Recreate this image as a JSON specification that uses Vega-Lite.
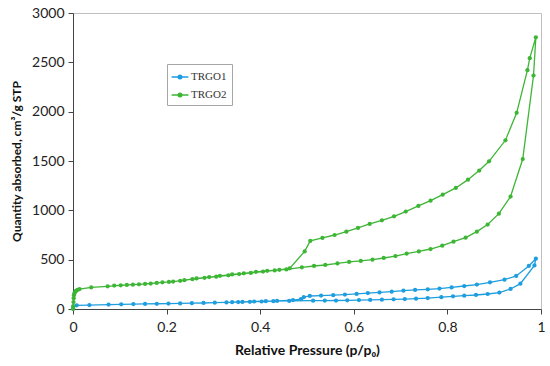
{
  "$schema": "https://vega.github.io/schema/vega-lite/v6.json",
  "width": 468,
  "height": 296,
  "autosize": {"type": "none"},
  "padding": {"left": 73, "top": 13, "right": 9, "bottom": 57},
  "background": "white",
  "config": {
    "view": {"stroke": "#bfbfbf", "strokeWidth": 1},
    "axis": {
      "labelFont": "Lato", "labelFontSize": 14, "labelColor": "#222",
      "titleFont": "Lato", "titleFontSize": 13, "titleFontWeight": "bold", "titleColor": "#111",
      "domainColor": "#444", "tickColor": "#444", "grid": false, "tickSize": 5
    }
  },
  "data": {"values": [
    {"s":"TRGO1","i":1,"x":0.0003,"y":5},
    {"s":"TRGO1","i":2,"x":0.001,"y":25},
    {"s":"TRGO1","i":3,"x":0.008,"y":37},
    {"s":"TRGO1","i":4,"x":0.035,"y":40},
    {"s":"TRGO1","i":5,"x":0.076,"y":45},
    {"s":"TRGO1","i":6,"x":0.103,"y":47},
    {"s":"TRGO1","i":7,"x":0.129,"y":50},
    {"s":"TRGO1","i":8,"x":0.154,"y":51},
    {"s":"TRGO1","i":9,"x":0.179,"y":53},
    {"s":"TRGO1","i":10,"x":0.204,"y":55},
    {"s":"TRGO1","i":11,"x":0.229,"y":57},
    {"s":"TRGO1","i":12,"x":0.254,"y":59},
    {"s":"TRGO1","i":13,"x":0.279,"y":61},
    {"s":"TRGO1","i":14,"x":0.303,"y":64},
    {"s":"TRGO1","i":15,"x":0.328,"y":67},
    {"s":"TRGO1","i":16,"x":0.353,"y":70},
    {"s":"TRGO1","i":17,"x":0.378,"y":73},
    {"s":"TRGO1","i":18,"x":0.403,"y":76},
    {"s":"TRGO1","i":19,"x":0.428,"y":79},
    {"s":"TRGO1","i":20,"x":0.462,"y":82},
    {"s":"TRGO1","i":21,"x":0.513,"y":84},
    {"s":"TRGO1","i":22,"x":0.538,"y":85},
    {"s":"TRGO1","i":23,"x":0.562,"y":86},
    {"s":"TRGO1","i":24,"x":0.586,"y":88},
    {"s":"TRGO1","i":25,"x":0.611,"y":90},
    {"s":"TRGO1","i":26,"x":0.635,"y":92},
    {"s":"TRGO1","i":27,"x":0.660,"y":95},
    {"s":"TRGO1","i":28,"x":0.685,"y":98},
    {"s":"TRGO1","i":29,"x":0.709,"y":101},
    {"s":"TRGO1","i":30,"x":0.733,"y":105},
    {"s":"TRGO1","i":31,"x":0.758,"y":111},
    {"s":"TRGO1","i":32,"x":0.787,"y":120},
    {"s":"TRGO1","i":33,"x":0.812,"y":128},
    {"s":"TRGO1","i":34,"x":0.836,"y":135},
    {"s":"TRGO1","i":35,"x":0.861,"y":142},
    {"s":"TRGO1","i":36,"x":0.886,"y":152},
    {"s":"TRGO1","i":37,"x":0.911,"y":166},
    {"s":"TRGO1","i":38,"x":0.935,"y":203},
    {"s":"TRGO1","i":39,"x":0.956,"y":257},
    {"s":"TRGO1","i":40,"x":0.986,"y":442},
    {"s":"TRGO1","i":41,"x":0.989,"y":510},
    {"s":"TRGO1","i":42,"x":0.974,"y":436},
    {"s":"TRGO1","i":43,"x":0.947,"y":335},
    {"s":"TRGO1","i":44,"x":0.922,"y":297},
    {"s":"TRGO1","i":45,"x":0.891,"y":270},
    {"s":"TRGO1","i":46,"x":0.863,"y":248},
    {"s":"TRGO1","i":47,"x":0.836,"y":233},
    {"s":"TRGO1","i":48,"x":0.809,"y":219},
    {"s":"TRGO1","i":49,"x":0.783,"y":207},
    {"s":"TRGO1","i":50,"x":0.758,"y":199},
    {"s":"TRGO1","i":51,"x":0.731,"y":193},
    {"s":"TRGO1","i":52,"x":0.706,"y":186},
    {"s":"TRGO1","i":53,"x":0.681,"y":176},
    {"s":"TRGO1","i":54,"x":0.655,"y":168},
    {"s":"TRGO1","i":55,"x":0.630,"y":161},
    {"s":"TRGO1","i":56,"x":0.606,"y":153},
    {"s":"TRGO1","i":57,"x":0.581,"y":146},
    {"s":"TRGO1","i":58,"x":0.556,"y":140},
    {"s":"TRGO1","i":59,"x":0.530,"y":136},
    {"s":"TRGO1","i":60,"x":0.506,"y":132},
    {"s":"TRGO1","i":61,"x":0.493,"y":120},
    {"s":"TRGO1","i":62,"x":0.487,"y":100},
    {"s":"TRGO1","i":63,"x":0.470,"y":90},
    {"s":"TRGO1","i":64,"x":0.436,"y":82},
    {"s":"TRGO1","i":65,"x":0.412,"y":79},
    {"s":"TRGO1","i":66,"x":0.387,"y":76},
    {"s":"TRGO1","i":67,"x":0.362,"y":72},
    {"s":"TRGO1","i":68,"x":0.340,"y":69},

    {"s":"TRGO2","i":1,"x":0.0002,"y":0},
    {"s":"TRGO2","i":2,"x":0.0006,"y":30},
    {"s":"TRGO2","i":3,"x":0.001,"y":70},
    {"s":"TRGO2","i":4,"x":0.0015,"y":110},
    {"s":"TRGO2","i":5,"x":0.002,"y":140},
    {"s":"TRGO2","i":6,"x":0.003,"y":160},
    {"s":"TRGO2","i":7,"x":0.005,"y":175},
    {"s":"TRGO2","i":8,"x":0.007,"y":186},
    {"s":"TRGO2","i":9,"x":0.010,"y":195},
    {"s":"TRGO2","i":10,"x":0.014,"y":202},
    {"s":"TRGO2","i":11,"x":0.039,"y":219},
    {"s":"TRGO2","i":12,"x":0.074,"y":230},
    {"s":"TRGO2","i":13,"x":0.102,"y":240},
    {"s":"TRGO2","i":14,"x":0.128,"y":247},
    {"s":"TRGO2","i":15,"x":0.154,"y":254},
    {"s":"TRGO2","i":16,"x":0.179,"y":264},
    {"s":"TRGO2","i":17,"x":0.205,"y":274},
    {"s":"TRGO2","i":18,"x":0.229,"y":286},
    {"s":"TRGO2","i":19,"x":0.255,"y":302},
    {"s":"TRGO2","i":20,"x":0.281,"y":316},
    {"s":"TRGO2","i":21,"x":0.306,"y":328},
    {"s":"TRGO2","i":22,"x":0.332,"y":342},
    {"s":"TRGO2","i":23,"x":0.355,"y":354},
    {"s":"TRGO2","i":24,"x":0.380,"y":366},
    {"s":"TRGO2","i":25,"x":0.406,"y":379},
    {"s":"TRGO2","i":26,"x":0.431,"y":391},
    {"s":"TRGO2","i":27,"x":0.456,"y":401},
    {"s":"TRGO2","i":28,"x":0.489,"y":422},
    {"s":"TRGO2","i":29,"x":0.515,"y":436},
    {"s":"TRGO2","i":30,"x":0.539,"y":446},
    {"s":"TRGO2","i":31,"x":0.565,"y":462},
    {"s":"TRGO2","i":32,"x":0.590,"y":477},
    {"s":"TRGO2","i":33,"x":0.615,"y":487},
    {"s":"TRGO2","i":34,"x":0.640,"y":500},
    {"s":"TRGO2","i":35,"x":0.664,"y":517},
    {"s":"TRGO2","i":36,"x":0.689,"y":537},
    {"s":"TRGO2","i":37,"x":0.713,"y":562},
    {"s":"TRGO2","i":38,"x":0.739,"y":584},
    {"s":"TRGO2","i":39,"x":0.764,"y":608},
    {"s":"TRGO2","i":40,"x":0.789,"y":642},
    {"s":"TRGO2","i":41,"x":0.813,"y":682},
    {"s":"TRGO2","i":42,"x":0.839,"y":723},
    {"s":"TRGO2","i":43,"x":0.863,"y":784},
    {"s":"TRGO2","i":44,"x":0.886,"y":856},
    {"s":"TRGO2","i":45,"x":0.910,"y":966},
    {"s":"TRGO2","i":46,"x":0.935,"y":1140},
    {"s":"TRGO2","i":47,"x":0.961,"y":1520},
    {"s":"TRGO2","i":48,"x":0.984,"y":2366},
    {"s":"TRGO2","i":49,"x":0.989,"y":2754},
    {"s":"TRGO2","i":50,"x":0.976,"y":2542},
    {"s":"TRGO2","i":51,"x":0.971,"y":2420},
    {"s":"TRGO2","i":52,"x":0.948,"y":1988},
    {"s":"TRGO2","i":53,"x":0.924,"y":1710},
    {"s":"TRGO2","i":54,"x":0.889,"y":1497},
    {"s":"TRGO2","i":55,"x":0.868,"y":1403},
    {"s":"TRGO2","i":56,"x":0.844,"y":1311},
    {"s":"TRGO2","i":57,"x":0.818,"y":1227},
    {"s":"TRGO2","i":58,"x":0.790,"y":1159},
    {"s":"TRGO2","i":59,"x":0.764,"y":1098},
    {"s":"TRGO2","i":60,"x":0.738,"y":1045},
    {"s":"TRGO2","i":61,"x":0.711,"y":987},
    {"s":"TRGO2","i":62,"x":0.686,"y":939},
    {"s":"TRGO2","i":63,"x":0.660,"y":899},
    {"s":"TRGO2","i":64,"x":0.634,"y":862},
    {"s":"TRGO2","i":65,"x":0.609,"y":822},
    {"s":"TRGO2","i":66,"x":0.584,"y":784},
    {"s":"TRGO2","i":67,"x":0.559,"y":750},
    {"s":"TRGO2","i":68,"x":0.533,"y":720},
    {"s":"TRGO2","i":69,"x":0.507,"y":690},
    {"s":"TRGO2","i":70,"x":0.495,"y":584},
    {"s":"TRGO2","i":71,"x":0.463,"y":412},
    {"s":"TRGO2","i":72,"x":0.441,"y":397},
    {"s":"TRGO2","i":73,"x":0.415,"y":387},
    {"s":"TRGO2","i":74,"x":0.391,"y":377},
    {"s":"TRGO2","i":75,"x":0.365,"y":362},
    {"s":"TRGO2","i":76,"x":0.340,"y":350},
    {"s":"TRGO2","i":77,"x":0.314,"y":336},
    {"s":"TRGO2","i":78,"x":0.291,"y":324},
    {"s":"TRGO2","i":79,"x":0.264,"y":310},
    {"s":"TRGO2","i":80,"x":0.238,"y":292},
    {"s":"TRGO2","i":81,"x":0.214,"y":278},
    {"s":"TRGO2","i":82,"x":0.191,"y":270},
    {"s":"TRGO2","i":83,"x":0.166,"y":258},
    {"s":"TRGO2","i":84,"x":0.141,"y":250},
    {"s":"TRGO2","i":85,"x":0.115,"y":244},
    {"s":"TRGO2","i":86,"x":0.088,"y":237}
  ]},
  "encoding": {
    "x": {"field": "x", "type": "quantitative",
      "scale": {"domain": [0, 1], "nice": false, "zero": false},
      "axis": {"values": [0, 0.2, 0.4, 0.6, 0.8, 1], "format": ".1~f", "labelPadding": 6, "titlePadding": 9,
               "titleFontSize": 14, "title": "Relative Pressure (p/p₀)", "labelFlush": false}},
    "y": {"field": "y", "type": "quantitative",
      "scale": {"domain": [0, 3000], "nice": false},
      "axis": {"values": [0, 500, 1000, 1500, 2000, 2500, 3000], "format": "d", "labelPadding": 4, "titlePadding": 8,
               "titleFontSize": 12, "title": "Quantity absorbed, cm³/g STP", "labelFlush": false}},
    "color": {"field": "s", "type": "nominal",
      "scale": {"domain": ["TRGO1", "TRGO2"], "range": ["#1e9ddf", "#3db535"]},
      "legend": {
        "title": null, "orient": "none", "legendX": 94, "legendY": 51,
        "padding": 5, "strokeColor": "#a6a6a6", "fillColor": "white",
        "labelFont": "Liberation Serif", "labelFontSize": 11, "labelColor": "#333",
        "symbolType": "M-1.2,0L1.2,0M0.25,0A0.25,0.25,0,1,1,-0.25,0A0.25,0.25,0,1,1,0.25,0Z",
        "symbolSize": 196, "symbolStrokeWidth": 1.5, "rowPadding": 5, "labelOffset": 3,
        "encode": {"symbols": {"update": {
          "fill": {"scale": "color", "field": "value"},
          "stroke": {"scale": "color", "field": "value"},
          "opacity": {"value": 1}
        }}}
      }
    }
  },
  "layer": [
    {"mark": {"type": "line", "strokeWidth": 1.3}, "encoding": {"order": {"field": "i", "type": "quantitative"}}},
    {"mark": {"type": "circle", "size": 18, "opacity": 1}}
  ]
}
